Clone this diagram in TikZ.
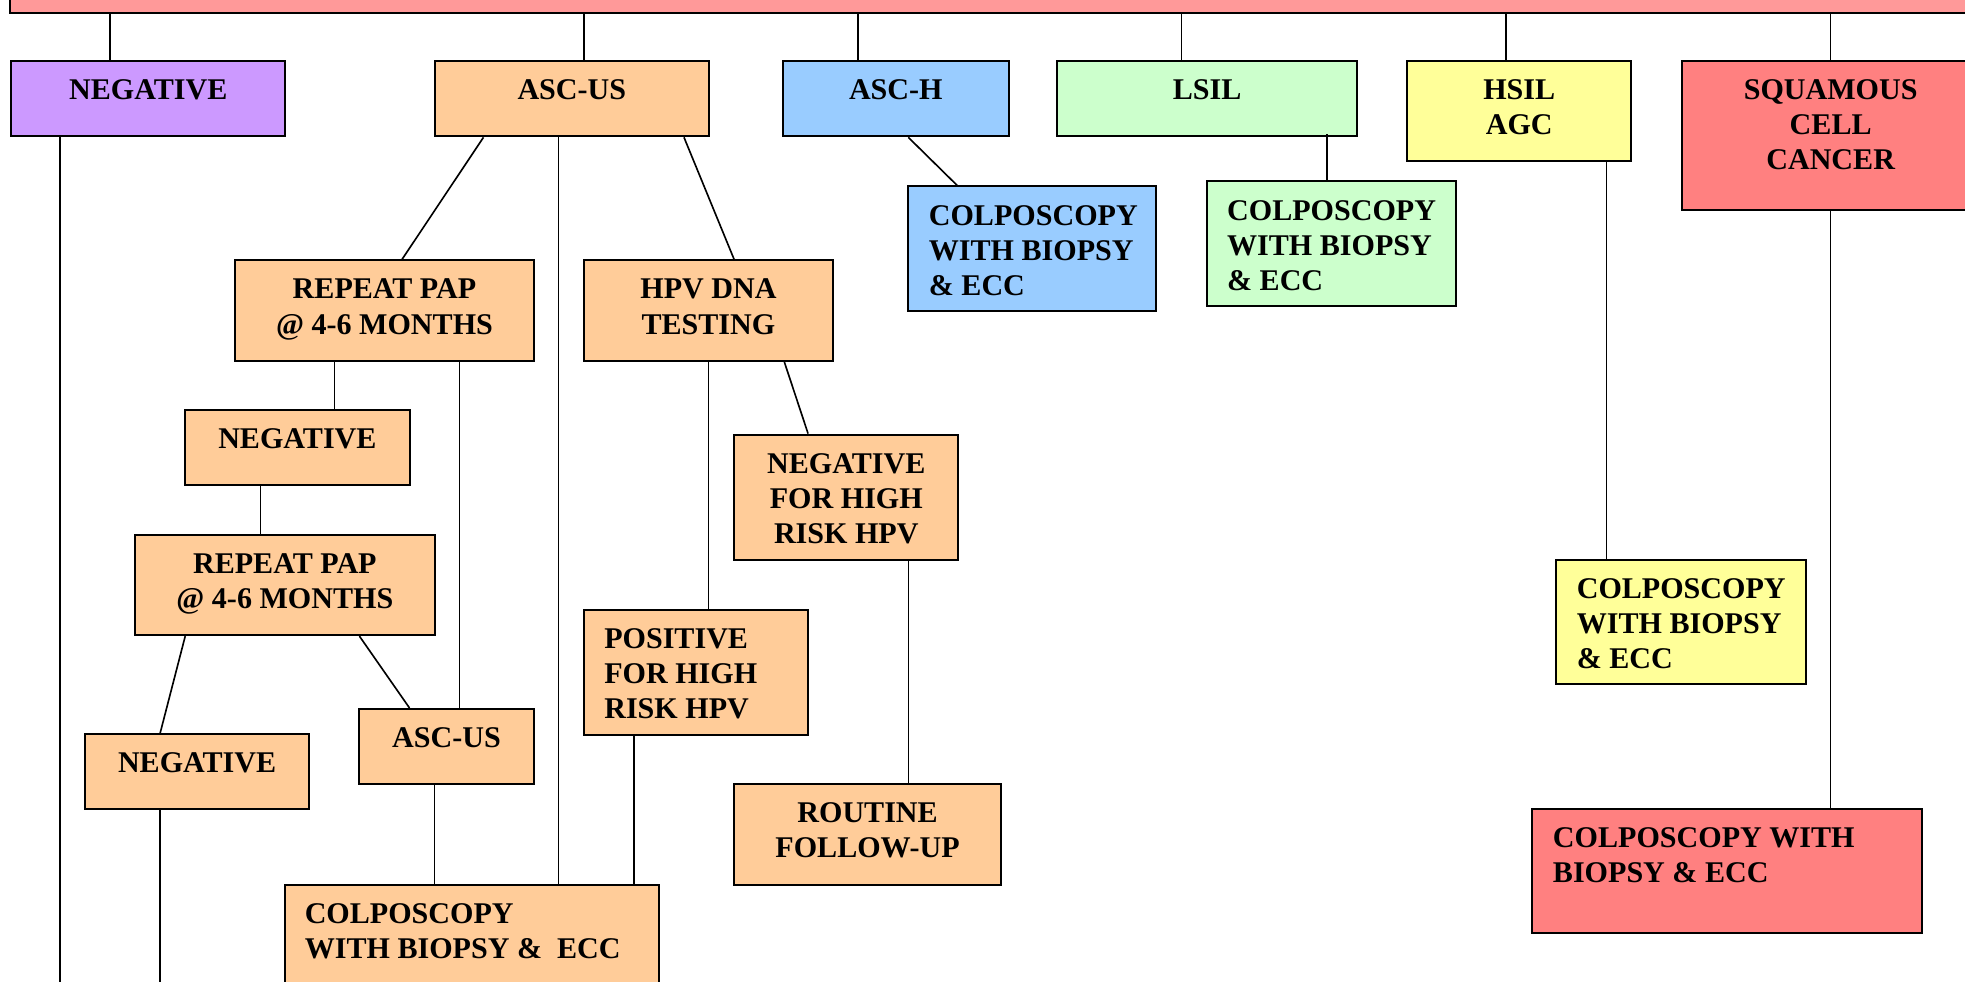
\documentclass[tikz,border=0pt]{standalone}
\usepackage{fontspec}
\setmainfont{Liberation Serif}
\definecolor{topbar}{HTML}{FF9999}
\definecolor{negcol}{HTML}{CC99FF}
\definecolor{asccol}{HTML}{FFCC99}
\definecolor{aschcol}{HTML}{99CCFF}
\definecolor{lsilcol}{HTML}{CCFFCC}
\definecolor{hsilcol}{HTML}{FFFF99}
\definecolor{sqcol}{HTML}{FF8080}
\begin{document}
\begin{tikzpicture}[x=1pt, y=-1pt,
  box/.style={draw=black, line width=1.6pt, rectangle, inner sep=0pt, anchor=north west},
  txt/.style={font=\fontsize{24}{28}\selectfont\bfseries, inner sep=0pt, align=center, anchor=north},
  ltxt/.style={txt, align=left, anchor=north west},
  every edge/.append style={line width=1.3pt}]
      \clip (0,0) rectangle (1568,783);
      \coordinate (bottom) at (0,800);

      % first row
      \node[box, fill=topbar, minimum width=1600, minimum height=70] (top) at (7,-60.5) {};
      \node[box, fill=negcol, minimum width=219, minimum height=60] (neg) at (8,48) {};
      \node[box, fill=asccol, minimum width=219, minimum height=60] (ascus) at (346,48) {};
      \node[box, fill=aschcol, minimum width=180, minimum height=60] (asch) at (624,48) {};
      \node[box, fill=lsilcol, minimum width=239, minimum height=60] (lsil) at (843,48) {};
      \node[box, fill=hsilcol, minimum width=179, minimum height=80] (hsil) at (1122,48) {};
      \node[box, fill=sqcol, minimum width=238, minimum height=119] (scc) at (1341,48) {};
      \node[txt] (negT) at ([yshift=-15.5]neg.north) {NEGATIVE};
      \node[txt] (ascusT) at ([yshift=-15.5]ascus.north) {ASC-US};
      \node[txt] (aschT) at ([yshift=-15.5]asch.north) {ASC-H};
      \node[txt] (lsilT) at ([yshift=-15.5]lsil.north) {LSIL};
      \node[txt] (hsilT) at ([yshift=-15.5]hsil.north) {HSIL\\AGC};
      \node[txt] (sccT) at ([yshift=-15.5]scc.north) {SQUAMOUS\\CELL\\CANCER};

      % colposcopy boxes
      \node[box, fill=aschcol, minimum width=198, minimum height=99] (aschC) at (724,148) {};
      \node[box, fill=lsilcol, minimum width=199, minimum height=99] (lsilC) at (962,144) {};
      \node[box, fill=hsilcol, minimum width=199, minimum height=99] (hsilC) at (1241,446) {};
      \node[box, fill=sqcol, minimum width=311, minimum height=99] (sccC) at (1222,645) {};
      \node[ltxt] (aschCT) at ([xshift=17,yshift=-15.5]aschC.north west) {COLPOSCOPY\\WITH BIOPSY\\\& ECC};
      \node[ltxt] (lsilCT) at ([xshift=17,yshift=-15.5]lsilC.north west) {COLPOSCOPY\\WITH BIOPSY\\\& ECC};
      \node[ltxt] (hsilCT) at ([xshift=17,yshift=-15.5]hsilC.north west) {COLPOSCOPY\\WITH BIOPSY\\\& ECC};
      \node[ltxt] (sccCT) at ([xshift=17,yshift=-15.5]sccC.north west) {COLPOSCOPY WITH\\BIOPSY \& ECC};

      % asc-us branch
      \node[box, fill=asccol, minimum width=238, minimum height=80] (rp1) at (187,207) {};
      \node[box, fill=asccol, minimum width=199, minimum height=80] (hpv) at (465,207) {};
      \node[box, fill=asccol, minimum width=179, minimum height=60] (neg2) at (147,326) {};
      \node[box, fill=asccol, minimum width=239, minimum height=80] (rp2) at (107,426) {};
      \node[box, fill=asccol, minimum width=179, minimum height=60] (neg3) at (67,585) {};
      \node[box, fill=asccol, minimum width=139, minimum height=60] (ascus2) at (286,565) {};
      \node[box, fill=asccol, minimum width=298, minimum height=100] (colpo) at (227,705) {};
      \node[box, fill=asccol, minimum width=179, minimum height=100] (negHR) at (585,346) {};
      \node[box, fill=asccol, minimum width=179, minimum height=100] (posHR) at (465,486) {};
      \node[box, fill=asccol, minimum width=213, minimum height=80] (routine) at (585,625) {};
      \node[txt] (rp1T) at ([yshift=-15.5]rp1.north) {REPEAT PAP\\@ 4-6 MONTHS};
      \node[txt] (hpvT) at ([yshift=-15.5]hpv.north) {HPV DNA\\TESTING};
      \node[txt] (neg2T) at ([yshift=-15.5]neg2.north) {NEGATIVE};
      \node[txt] (rp2T) at ([yshift=-15.5]rp2.north) {REPEAT PAP\\@ 4-6 MONTHS};
      \node[txt] (neg3T) at ([yshift=-15.5]neg3.north) {NEGATIVE};
      \node[txt] (ascus2T) at ([yshift=-15.5]ascus2.north) {ASC-US};
      \node[ltxt] (colpoT) at ([xshift=16,yshift=-15.5]colpo.north west) {COLPOSCOPY\\WITH BIOPSY \&\ \ ECC};
      \node[txt] (negHRT) at ([yshift=-15.5]negHR.north) {NEGATIVE\\FOR HIGH\\RISK HPV};
      \node[ltxt] (posHRT) at ([xshift=17,yshift=-15.5]posHR.north west) {POSITIVE\\FOR HIGH\\RISK HPV};
      \node[txt] (routineT) at ([yshift=-15.5]routine.north) {ROUTINE\\FOLLOW-UP};

      % drops from the bar
      \path [-] ([xshift=-30.5]neg.north) edge ([xshift=-30.5]neg.north |- top.south);
      \path [-] ([xshift=9.5]ascus.north) edge ([xshift=9.5]ascus.north |- top.south);
      \path [-] ([xshift=-30]asch.north) edge ([xshift=-30]asch.north |- top.south);
      \path [-] ([xshift=-20.5]lsil.north) edge ([xshift=-20.5]lsil.north |- top.south);
      \path [-] ([xshift=-10.5]hsil.north) edge ([xshift=-10.5]hsil.north |- top.south);
      \path [-] (scc.north) edge (scc.north |- top.south);

      \path [-] ([xshift=10]asch.south) edge ([xshift=-60]aschC.north);
      \path [-] ([xshift=-3.5]lsilC.north) edge ([xshift=-3.5,yshift=3]lsilC.north |- lsil.south);
      \path [-] ([xshift=69.5]hsil.south) edge ([xshift=69.5]hsil.south |- hsilC.north);
      \path [-] (scc.south) edge (scc.south |- sccC.north);

      \path [-] ([xshift=-70.5]ascus.south) edge ([xshift=14]rp1.north);
      \path [-] ([xshift=89.5]ascus.south) edge ([xshift=20.5]hpv.north);
      \path [-] ([xshift=-10.5]ascus.south) edge ([xshift=-10.5]ascus.south |- colpo.north);
      \path [-] ([xshift=-40]rp1.south) edge ([xshift=-40]rp1.south |- neg2.north);
      \path [-] ([xshift=60]rp1.south) edge ([xshift=60]rp1.south |- ascus2.north);
      \path [-] ([xshift=-29.5]neg2.south) edge ([xshift=-29.5]neg2.south |- rp2.north);
      \path [-] ([xshift=-79.5]rp2.south) edge ([xshift=-29.5]neg3.north);
      \path [-] ([xshift=59.5]rp2.south) edge ([xshift=-29.5]ascus2.north);
      \path [-] ([xshift=-9.5]ascus2.south) edge ([xshift=-9.5]ascus2.south |- colpo.north);
      \path [-] (hpv.south) edge (hpv.south |- posHR.north);
      \path [-] ([xshift=60.5]hpv.south) edge ([xshift=-30.5]negHR.north);
      \path [-] ([xshift=-49.5]posHR.south) edge ([xshift=-49.5]posHR.south |- colpo.north);
      \path [-] ([xshift=49.5]negHR.south) edge ([xshift=49.5]negHR.south |- routine.north);

      \path [-] ([xshift=-70.5]neg.south) edge ([xshift=-70.5]neg.south |- bottom);
      \path [-] ([xshift=-29.5]neg3.south) edge ([xshift=-29.5]neg3.south |- bottom);

      \end{tikzpicture}
\end{document}
